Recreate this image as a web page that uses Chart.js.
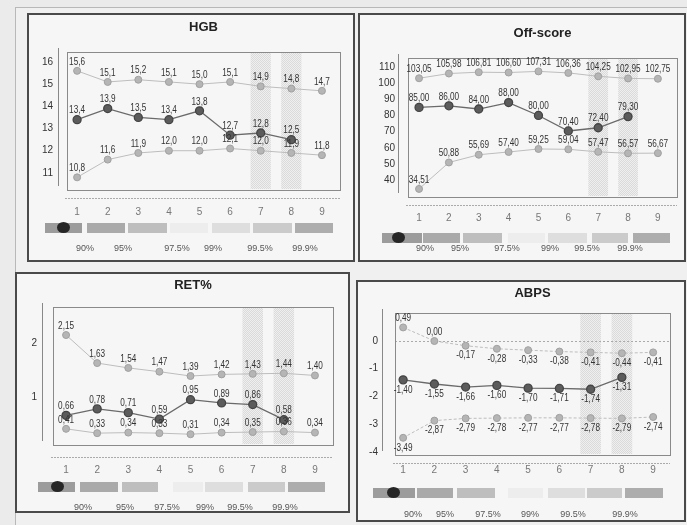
<!DOCTYPE html>
<html>
<head>
<meta charset="utf-8">
<script src="https://cdn.jsdelivr.net/npm/chart.js@4.4.0/dist/chart.umd.min.js"></script>
<style>
body { margin:0; width:687px; height:525px; overflow:hidden; position:relative; background:#ebebeb; font-family:"Liberation Sans", Arial, sans-serif; }
.frame { position:absolute; left:15px; top:7px; width:690px; height:530px; border:1px solid #b8b8b8; background:#f0f0f0; }
.panel { position:absolute; background:#f6f6f6; box-shadow:inset 0 0 0 2px #4a4a4a; }
.panel canvas { position:absolute; left:0; top:0; }
.ttl { position:absolute; font-weight:bold; font-size:13px; color:#222; transform:translateX(-50%); white-space:nowrap; }
.box { position:absolute; height:10px; }
.dot { position:absolute; width:13px; height:11px; border-radius:50%; background:#262626; }
.pct { position:absolute; font-size:9px; color:#555; transform:translateX(-50%); white-space:nowrap; }
</style>
</head>
<body>
<div class="frame"></div>
<script>
// chart values
var xValues = [1, 2, 3, 4, 5, 6, 7, 8, 9];
var bandCenters = [7, 8];
var pctLabels = ["90%", "95%", "97.5%", "99%", "99.5%", "99.9%"];
var legendColors = ["#9c9c9c", "#aaaaaa", "#bebebe", "#ededed", "#dedede", "#cbcbcb", "#adadad"];

var hgbUpper = [15.6, 15.1, 15.2, 15.1, 15.0, 15.1, 14.9, 14.8, 14.7];
var hgbMid = [13.4, 13.9, 13.5, 13.4, 13.8, 12.7, 12.8, 12.5];
var hgbLower = [10.8, 11.6, 11.9, 12.0, 12.0, 12.1, 12.0, 11.9, 11.8];
var hgbTicks = [11, 12, 13, 14, 15, 16];

var offUpper = [103.05, 105.98, 106.81, 106.60, 107.31, 106.36, 104.25, 102.95, 102.75];
var offMid = [85.00, 86.00, 84.00, 88.00, 80.00, 70.40, 72.40, 79.30];
var offLower = [34.51, 50.88, 55.69, 57.40, 59.25, 59.04, 57.47, 56.57, 56.67];
var offTicks = [40, 50, 60, 70, 80, 90, 100, 110];

var retUpper = [2.15, 1.63, 1.54, 1.47, 1.39, 1.42, 1.43, 1.44, 1.40];
var retMid = [0.66, 0.78, 0.71, 0.59, 0.95, 0.89, 0.86, 0.58];
var retLower = [0.41, 0.33, 0.34, 0.33, 0.31, 0.34, 0.35, 0.36, 0.34];
var retTicks = [1, 2];

var abpsUpper = [0.49, 0.00, -0.17, -0.28, -0.33, -0.38, -0.41, -0.44, -0.41];
var abpsMid = [-1.40, -1.55, -1.66, -1.60, -1.70, -1.71, -1.74, -1.31];
var abpsLower = [-3.49, -2.87, -2.79, -2.78, -2.77, -2.77, -2.78, -2.79, -2.74];
var abpsTicks = [0, -1, -2, -3, -4];

// panel layout (local px inside each panel)
var panels = [
    { title: "HGB", left: 27, top: 13, w: 328, h: 249, plot: [40, 39, 313, 177], xr: [0.67, 9.59], yr: [10.23, 16.45],
      up: hgbUpper, mid: hgbMid, low: hgbLower, ticks: hgbTicks, dec: 1, titleY: 6,
      yPad: 14, xPad: 16, leftGap: 9, xGap: 8, boxY: 210, pctY: 230,
      boxes: [[18, 55], [60, 98], [101, 140], [143, 181], [185, 223], [226, 265], [268, 306]], dotX: 36,
      pctX: [58, 96, 150, 186, 233, 278] },
    { title: "Off-score", left: 358, top: 13, w: 328, h: 249, plot: [50, 45, 319, 184], xr: [0.63, 9.64], yr: [29.5, 115.6],
      up: offUpper, mid: offMid, low: offLower, ticks: offTicks, dec: 2, titleY: 12,
      yPad: 13, xPad: 15, leftGap: 10, xGap: 8, boxY: 220, pctY: 230,
      boxes: [[24, 64], [65, 102], [105, 144], [150, 187], [190, 229], [234, 270], [275, 312]], dotX: 40,
      pctX: [67, 102, 149, 192, 229, 272] },
    { title: "RET%", left: 15, top: 272, w: 335, h: 241, plot: [38, 35, 318, 173], xr: [0.58, 9.58], yr: [0.11, 2.67],
      up: retUpper, mid: retMid, low: retLower, ticks: retTicks, dec: 2, titleY: 5,
      yPad: 16, xPad: 19, leftGap: 11, xGap: 12, boxY: 210, pctY: 230,
      boxes: [[23, 60], [65, 103], [107, 143], [158, 188], [190, 228], [233, 270], [273, 310]], dotX: 42,
      pctX: [68, 110, 152, 190, 225, 270] },
    { title: "ABPS", left: 356, top: 280, w: 330, h: 242, plot: [39, 33, 314, 175], xr: [0.74, 9.54], yr: [-4.11, 1.01],
      up: abpsUpper, mid: abpsMid, low: abpsLower, ticks: abpsTicks, dec: 2, titleY: 5,
      yPad: 17, xPad: 9, leftGap: 13, xGap: 8, boxY: 208, pctY: 229,
      boxes: [[17, 59], [61, 97], [101, 139], [152, 187], [192, 229], [231, 266], [269, 307]], dotX: 37,
      pctX: [57, 89, 132, 174, 217, 269], zeroLine: true, dash: [3, 2], below: true }
];

function pts(arr) {
    return arr.map(function (v, i) { return { x: xValues[i], y: v }; });
}

function dotPattern(ctx) {
    var c = document.createElement("canvas");
    c.width = 2; c.height = 2;
    var g = c.getContext("2d");
    g.fillStyle = "#efefef"; g.fillRect(0, 0, 2, 2);
    g.fillStyle = "#dadada"; g.fillRect(0, 0, 1, 1); g.fillRect(1, 1, 1, 1);
    return ctx.createPattern(c, "repeat");
}

var framePlugin = {
    id: "frame",
    beforeDatasetsDraw: function (chart) {
        var p = chart.config.options.panel;
        var ctx = chart.ctx, a = chart.chartArea, x = chart.scales.x, y = chart.scales.y;
        ctx.save();
        // shaded columns
        ctx.fillStyle = dotPattern(ctx);
        bandCenters.forEach(function (c) {
            var l = x.getPixelForValue(c - 0.33), r = x.getPixelForValue(c + 0.33);
            ctx.fillRect(l, a.top + 1, r - l, a.bottom - a.top - 2);
        });
        // zero line
        if (p.zeroLine) {
            ctx.strokeStyle = "#aaa"; ctx.lineWidth = 1; ctx.setLineDash([2, 2]);
            var y0 = Math.round(y.getPixelForValue(0)) + 0.5;
            ctx.beginPath(); ctx.moveTo(a.left, y0); ctx.lineTo(a.right, y0); ctx.stroke();
            ctx.setLineDash([]);
        }
        // plot box
        ctx.strokeStyle = "#8a8a8a"; ctx.lineWidth = 1;
        ctx.strokeRect(a.left + 0.5, a.top + 0.5, a.right - a.left, a.bottom - a.top);
        // left axis line
        var lx = a.left - p.leftGap + 0.5;
        ctx.strokeStyle = "#888";
        ctx.beginPath(); ctx.moveTo(lx, a.top - 4); ctx.lineTo(lx, a.bottom - 4); ctx.stroke();
        // bottom axis line
        var by = a.bottom + p.xGap + 0.5;
        ctx.strokeStyle = "#aaa"; ctx.setLineDash([2, 1]);
        ctx.beginPath(); ctx.moveTo(a.left - 2, by); ctx.lineTo(a.right, by); ctx.stroke();
        ctx.restore();
    }
};

var labelPlugin = {
    id: "vlabels",
    afterDatasetsDraw: function (chart) {
        var p = chart.config.options.panel;
        var ctx = chart.ctx;
        ctx.save();
        ctx.font = "10px 'Liberation Sans', Arial, sans-serif";
        ctx.fillStyle = "#333";
        ctx.textAlign = "center";
        ctx.textBaseline = "middle";
        chart.data.datasets.forEach(function (ds, di) {
            chart.getDatasetMeta(di).data.forEach(function (pt, i) {
                var v = ds.data[i].y;
                var t = v.toFixed(p.dec).replace(".", ",");
                var ty = (p.below && v < 0) ? pt.y + 10 : pt.y - 9;
                ctx.save();
                ctx.translate(pt.x, ty);
                ctx.scale(0.82, 1);
                ctx.fillText(t, 0, 0);
                ctx.restore();
            });
        });
        ctx.restore();
    }
};

panels.forEach(function (p) {
    var div = document.createElement("div");
    div.className = "panel";
    div.style.left = p.left + "px"; div.style.top = p.top + "px";
    div.style.width = p.w + "px"; div.style.height = p.h + "px";
    document.body.appendChild(div);

    var cv = document.createElement("canvas");
    cv.width = p.w; cv.height = p.h;
    div.appendChild(cv);

    var t = document.createElement("div");
    t.className = "ttl"; t.textContent = p.title;
    t.style.left = ((p.plot[0] + p.plot[2]) / 2) + "px"; t.style.top = p.titleY + "px";
    div.appendChild(t);

    p.boxes.forEach(function (b, i) {
        var bx = document.createElement("div");
        bx.className = "box";
        bx.style.left = b[0] + "px"; bx.style.width = (b[1] - b[0]) + "px";
        bx.style.top = p.boxY + "px"; bx.style.background = legendColors[i];
        div.appendChild(bx);
    });
    var d = document.createElement("div");
    d.className = "dot";
    d.style.left = (p.dotX - 6) + "px"; d.style.top = (p.boxY - 1) + "px";
    div.appendChild(d);

    pctLabels.forEach(function (s, i) {
        var l = document.createElement("div");
        l.className = "pct"; l.textContent = s;
        l.style.left = p.pctX[i] + "px"; l.style.top = p.pctY + "px";
        div.appendChild(l);
    });

    var light = { borderColor: "#bdbdbd", borderWidth: 1, pointBackgroundColor: "#b5b5b5", pointBorderColor: "#a0a0a0", pointRadius: 3.5, borderDash: p.dash || [] };
    new Chart(cv, {
        type: "line",
        data: {
            datasets: [
                Object.assign({ data: pts(p.up) }, light),
                { data: pts(p.mid), borderColor: "#6a6a6a", borderWidth: 1.3, pointBackgroundColor: "#5c5c5c", pointBorderColor: "#444", pointRadius: 4 },
                Object.assign({ data: pts(p.low) }, light)
            ]
        },
        options: {
            panel: p,
            responsive: false,
            animation: false,
            layout: { padding: { left: 0, top: p.plot[1], right: p.w - p.plot[2], bottom: 0 } },
            plugins: { legend: { display: false }, tooltip: { enabled: false } },
            scales: {
                x: {
                    type: "linear", min: p.xr[0], max: p.xr[1],
                    grid: { display: false, drawTicks: false }, border: { display: false },
                    afterBuildTicks: function (s) { s.ticks = xValues.map(function (v) { return { value: v }; }); },
                    afterFit: function (s) { s.height = p.h - p.plot[3]; },
                    ticks: { padding: p.xPad, color: "#777", font: { size: 10 }, maxRotation: 0, autoSkip: false }
                },
                y: {
                    min: p.yr[0], max: p.yr[1],
                    grid: { display: false, drawTicks: false }, border: { display: false },
                    afterBuildTicks: function (s) { s.ticks = p.ticks.map(function (v) { return { value: v }; }); },
                    afterFit: function (s) { s.width = p.plot[0]; },
                    ticks: { padding: p.yPad, color: "#333", font: { size: 10 } }
                }
            }
        },
        plugins: [framePlugin, labelPlugin]
    });
});
</script>
</body>
</html>
